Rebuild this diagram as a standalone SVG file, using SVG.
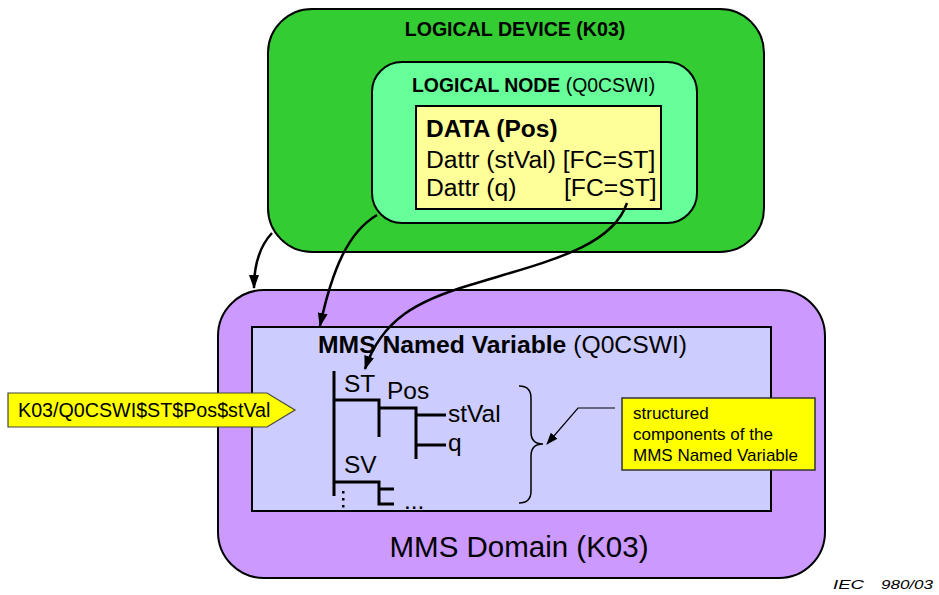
<svg xmlns="http://www.w3.org/2000/svg" width="939" height="595" viewBox="0 0 939 595">
<style>
text{font-family:"Liberation Sans",Arial,sans-serif;fill:#000}
.b{font-weight:bold}
.box{stroke:#000;stroke-width:2}
.tree{stroke:#000;stroke-width:3;fill:none}
.conn{stroke:#000;stroke-width:2.5;fill:none;marker-end:url(#ah)}
</style>
<defs>
<marker id="ah" markerUnits="userSpaceOnUse" markerWidth="14" markerHeight="10" refX="13" refY="5" orient="auto">
<path d="M0,0 L14,5 L0,10 z" fill="#000"/>
</marker>
<marker id="ah2" markerUnits="userSpaceOnUse" markerWidth="12" markerHeight="9" refX="11" refY="4.5" orient="auto">
<path d="M0,0 L12,4.5 L0,9 z" fill="#000"/>
</marker>
</defs>
<g id="logical-device">
<rect class="box" x="268" y="9" width="496" height="243" rx="44" fill="#33CC33"/>
<text class="b" x="515" y="36" font-size="19.6" text-anchor="middle">LOGICAL DEVICE (K03)</text>
</g>
<g id="logical-node">
<rect class="box" x="372" y="62" width="325" height="161" rx="30" fill="#66FF99"/>
<text x="412" y="92" font-size="19.4"><tspan class="b">LOGICAL NODE </tspan>(Q0CSWI)</text>
</g>
<g id="data">
<rect class="box" x="416" y="106" width="245" height="103" fill="#FFFF99"/>
<text class="b" x="426" y="137" font-size="24.5">DATA (Pos)</text>
<text x="426" y="168" font-size="24.7">Dattr (stVal) [FC=ST]</text>
<text x="426" y="196" font-size="24.7">Dattr (q)</text>
<text x="564" y="196" font-size="24.7">[FC=ST]</text>
</g>
<g id="mms-domain">
<rect class="box" x="218" y="290" width="607" height="288" rx="46" fill="#CC99FF"/>
<text x="519" y="557" font-size="29.5" text-anchor="middle">MMS Domain (K03)</text>
</g>
<g id="mms-named-variable">
<rect class="box" x="252" y="327" width="519" height="184" fill="#CCCCFF"/>
<text x="318" y="353" font-size="24.7"><tspan class="b">MMS Named Variable </tspan>(Q0CSWI)</text>
<path class="tree" d="M334,371 V496 M334,400 H379 V437 M379,408 H416 V459 M416,415 H446 M416,445 H446 M334,482 H379 V504 H394 M379,489 H394"/>
<rect x="342" y="491" width="2.5" height="2.5" fill="#000"/>
<rect x="342" y="498" width="2.5" height="2.5" fill="#000"/>
<rect x="342" y="505" width="2.5" height="2.5" fill="#000"/>
<text x="344" y="392" font-size="24.5">ST</text>
<text x="387" y="399" font-size="24.5">Pos</text>
<text x="448" y="422" font-size="24.5">stVal</text>
<text x="448" y="451" font-size="24.5">q</text>
<text x="344" y="473" font-size="24.5">SV</text>
<text x="404" y="509" font-size="24.5">...</text>
<path d="M519,386 Q531,386 531,398 L531,432 Q531,444 543,444 Q531,444 531,456 L531,491 Q531,503 519,503" fill="none" stroke="#000" stroke-width="1.5"/>
</g>
<g id="callout">
<rect x="622" y="398" width="193" height="72" fill="#FFFF00" stroke="#333" stroke-width="1.5"/>
<text x="633" y="419" font-size="17">structured</text>
<text x="633" y="440" font-size="17">components of the</text>
<text x="633" y="461" font-size="17">MMS Named Variable</text>
</g>
<g id="reference-label">
<polygon points="8,393 267,393 295,410 267,427 8,427" fill="#FFFF00" stroke="#444" stroke-width="1.2"/>
<text x="18" y="417" font-size="19.7">K03/Q0CSWI$ST$Pos$stVal</text>
</g>
<g id="connectors">
<path class="conn" d="M272,233 C258,248 254,268 254,288"/>
<path class="conn" d="M377,215 C348,232 332,270 320,326"/>
<path class="conn" d="M627,203 C612,248 545,262 470,285 C420,300 382,318 365,369"/>
<path d="M615,408 H578 L547,444" fill="none" stroke="#000" stroke-width="1.2" marker-end="url(#ah2)"/>
</g>
<text x="833" y="589" font-size="13" font-style="italic" textLength="31" lengthAdjust="spacingAndGlyphs">IEC</text>
<text x="881" y="589" font-size="13" font-style="italic" textLength="52" lengthAdjust="spacingAndGlyphs">980/03</text>
</svg>
